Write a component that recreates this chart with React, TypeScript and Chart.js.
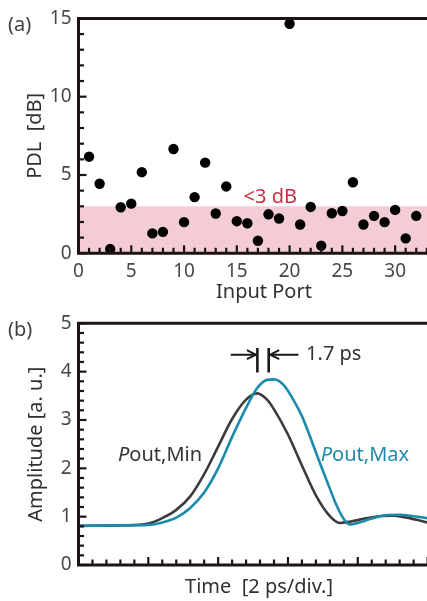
import React, { useEffect, useRef } from "react";
import { Chart, registerables } from "chart.js";
Chart.register(...registerables);

const FONT = "'Noto Sans', 'DejaVu Sans', sans-serif";
const AXIS_COLOR = "#1c1414";
const TICK_LABEL_COLOR = "#484848";
const TITLE_COLOR = "#303030";

// ---------- Panel (a): PDL per input port ----------
const inputPorts = [1, 2, 3, 4, 5, 6, 7, 8, 9, 10, 11, 12, 13, 14, 15, 16, 17, 18, 19, 20, 21, 22, 23, 24, 25, 26, 27, 28, 29, 30, 31, 32];
const pdlValues = [6.17, 4.44, 0.27, 2.94, 3.17, 5.18, 1.27, 1.37, 6.66, 1.99, 3.59, 5.79, 2.54, 4.27, 2.05, 1.92, 0.8, 2.49, 2.22, 14.66, 1.84, 2.96, 0.49, 2.56, 2.7, 4.54, 1.84, 2.39, 1.99, 2.77, 0.95, 2.39];
const portAxisTicks = [0, 5, 10, 15, 20, 25, 30];
const pdlAxisTicks = [0, 5, 10, 15];
const pdlBandMax = 3;
const pdlBandLabel = "<3 dB";

// ---------- Panel (b): pulse waveforms ----------
const timeMin = [0, 3, 5, 6, 7, 8, 9, 10, 11, 12, 12.8, 13.5, 14, 15, 16, 17, 18, 18.7, 19.5, 20.5, 21.5, 22.5, 23.5, 24.3, 25];
const ampMin = [0.81, 0.82, 0.86, 0.97, 1.14, 1.42, 1.88, 2.45, 3.02, 3.42, 3.55, 3.42, 3.22, 2.7, 2.06, 1.44, 1.01, 0.87, 0.9, 0.96, 1.01, 1.02, 0.98, 0.93, 0.88];
const timeMax = [0, 3, 5, 6, 7, 8, 9, 10, 11, 12, 12.8, 13.5, 14, 14.7, 15.4, 16, 16.5, 17, 17.5, 18, 18.5, 19, 19.4, 20, 21, 22, 23, 24, 25];
const ampMax = [0.81, 0.82, 0.83, 0.88, 0.98, 1.18, 1.5, 2.0, 2.65, 3.25, 3.66, 3.83, 3.84, 3.72, 3.41, 3.08, 2.72, 2.33, 1.95, 1.58, 1.22, 0.95, 0.84, 0.87, 0.96, 1.03, 1.04, 1.01, 0.97];
const ampAxisTicks = [0, 1, 2, 3, 4, 5];
const delayLabel = "1.7 ps";

const GRAY = "#3c3c3c";
const TEAL = "#1c8bab";

type TickSpec = {
  xMin: number; xMax: number; xStep: number; xMajorEvery: number;
  yMin: number; yMax: number; yStep: number; yMajorEvery: number;
};

function drawFrameAndTicks(chart: any, spec: TickSpec) {
  const { ctx, chartArea: a } = chart;
  const xs = chart.scales.x;
  const ys = chart.scales.y;
  ctx.save();
  ctx.strokeStyle = AXIS_COLOR;
  ctx.lineWidth = 2.2;
  const nx = Math.round((spec.xMax - spec.xMin) / spec.xStep);
  for (let i = 0; i <= nx; i++) {
    const px = xs.getPixelForValue(spec.xMin + i * spec.xStep);
    const len = i % spec.xMajorEvery === 0 ? 8 : 5.5;
    ctx.beginPath();
    ctx.moveTo(px, a.bottom);
    ctx.lineTo(px, a.bottom - len);
    ctx.stroke();
  }
  const ny = Math.round((spec.yMax - spec.yMin) / spec.yStep);
  for (let i = 0; i <= ny; i++) {
    const py = ys.getPixelForValue(spec.yMin + i * spec.yStep);
    const len = i % spec.yMajorEvery === 0 ? 8 : 5.5;
    ctx.beginPath();
    ctx.moveTo(a.left, py);
    ctx.lineTo(a.left + len, py);
    ctx.stroke();
  }
  ctx.lineWidth = 3;
  ctx.beginPath();
  ctx.moveTo(a.right + 8, a.top);
  ctx.lineTo(a.left, a.top);
  ctx.lineTo(a.left, a.bottom);
  ctx.lineTo(a.right + 8, a.bottom);
  ctx.stroke();
  ctx.restore();
}

function drawText(ctx: any, text: string, x: number, y: number, color: string, size: number, align = "left", style = "normal") {
  ctx.save();
  ctx.fillStyle = color;
  ctx.font = `${style} ${size}px ${FONT}`;
  ctx.textAlign = align;
  ctx.textBaseline = "middle";
  ctx.fillText(text, x, y);
  ctx.restore();
}

const panelALayer = {
  id: "panelALayer",
  beforeDatasetsDraw(chart: any) {
    const { ctx, chartArea: a } = chart;
    const ys = chart.scales.y;
    const top = ys.getPixelForValue(pdlBandMax);
    const bottom = ys.getPixelForValue(0);
    ctx.save();
    ctx.fillStyle = "#f3ccd4";
    ctx.fillRect(a.left, top, a.right - a.left + 8, bottom - top);
    ctx.restore();
  },
  afterDatasetsDraw(chart: any) {
    const { ctx } = chart;
    const xs = chart.scales.x;
    const ys = chart.scales.y;
    drawFrameAndTicks(chart, { xMin: 0, xMax: 33, xStep: 1, xMajorEvery: 5, yMin: 0, yMax: 15, yStep: 1, yMajorEvery: 5 });
    drawText(ctx, pdlBandLabel, xs.getPixelForValue(15.64), ys.getPixelForValue(3.55), "#c62d42", 20);
    drawText(ctx, "Input Port", 264, 292, TITLE_COLOR, 20, "center");
    drawText(ctx, "(a)", 8, 25, "#404040", 20);
  },
};

function drawArrowHead(ctx: any, tipX: number, y: number, dir: number) {
  ctx.beginPath();
  ctx.moveTo(tipX - dir * 9, y - 4.5);
  ctx.lineTo(tipX, y);
  ctx.lineTo(tipX - dir * 9, y + 4.5);
  ctx.stroke();
}

const panelBLayer = {
  id: "panelBLayer",
  afterDatasetsDraw(chart: any) {
    const { ctx } = chart;
    const xs = chart.scales.x;
    const ys = chart.scales.y;
    drawFrameAndTicks(chart, { xMin: 0, xMax: 25, xStep: 1, xMajorEvery: 5, yMin: 0, yMax: 5, yStep: 0.2, yMajorEvery: 5 });

    // delay marker
    const b1 = xs.getPixelForValue(12.81);
    const b2 = xs.getPixelForValue(13.62);
    const yTop = ys.getPixelForValue(4.49);
    const yBot = ys.getPixelForValue(3.98);
    const yArr = ys.getPixelForValue(4.35);
    const lStart = xs.getPixelForValue(10.9);
    const rEnd = xs.getPixelForValue(15.75);
    ctx.save();
    ctx.strokeStyle = "#1a1a1a";
    ctx.lineWidth = 2.6;
    ctx.beginPath();
    ctx.moveTo(b1, yTop); ctx.lineTo(b1, yBot);
    ctx.moveTo(b2, yTop); ctx.lineTo(b2, yBot);
    ctx.stroke();
    ctx.lineWidth = 2;
    ctx.beginPath();
    ctx.moveTo(lStart, yArr); ctx.lineTo(b1 - 1, yArr);
    ctx.moveTo(rEnd, yArr); ctx.lineTo(b2 + 1, yArr);
    ctx.stroke();
    drawArrowHead(ctx, b1 - 1.5, yArr, 1);
    drawArrowHead(ctx, b2 + 1.5, yArr, -1);
    ctx.restore();
    drawText(ctx, delayLabel, xs.getPixelForValue(16.3), yArr, "#333333", 20);

    // series labels with italic P
    const drawSeriesLabel = (t: number, v: number, rest: string, color: string) => {
      const x = xs.getPixelForValue(t);
      const y = ys.getPixelForValue(v);
      ctx.save();
      ctx.font = `italic 20px ${FONT}`;
      const w = ctx.measureText("P").width;
      ctx.restore();
      drawText(ctx, "P", x, y, color, 20, "left", "italic");
      drawText(ctx, rest, x + w, y, color, 20);
    };
    drawSeriesLabel(2.83, 2.26, "out,Min", "#333333");
    drawSeriesLabel(17.35, 2.26, "out,Max", TEAL);

    drawText(ctx, "Time  [2 ps/div.]", 259, 287, TITLE_COLOR, 20, "center");
    drawText(ctx, "(b)", 8, 30, "#404040", 20);
  },
};

const tickFont = { family: FONT, size: 19, lineHeight: 1.2 };
const titleFont = { family: FONT, size: 20, lineHeight: 1.2 };

export default function App() {
  const refA = useRef<HTMLCanvasElement>(null);
  const refB = useRef<HTMLCanvasElement>(null);

  useEffect(() => {
    const chartA = new Chart(refA.current as HTMLCanvasElement, {
      type: "scatter",
      data: {
        datasets: [
          {
            data: inputPorts.map((p, i) => ({ x: p, y: pdlValues[i] })),
            backgroundColor: "#000000",
            borderWidth: 0,
            pointRadius: 5.2,
            clip: false as any,
          },
        ],
      },
      options: {
        animation: false,
        responsive: false,
        layout: { padding: { left: 0, top: 16.2, right: 4.4, bottom: 0 } },
        plugins: { legend: { display: false }, tooltip: { enabled: false } },
        scales: {
          x: {
            type: "linear",
            min: 0,
            max: 33,
            grid: { display: false, drawTicks: false },
            border: { display: false },
            ticks: { font: tickFont, color: TICK_LABEL_COLOR, padding: 7, maxRotation: 0 },
            afterBuildTicks: (s: any) => { s.ticks = portAxisTicks.map((value) => ({ value })); },
            afterFit: (s: any) => { s.height = 56.7; },
          },
          y: {
            type: "linear",
            min: 0,
            max: 15,
            grid: { display: false, drawTicks: false },
            border: { display: false },
            ticks: { font: tickFont, color: TICK_LABEL_COLOR, padding: 7 },
            afterBuildTicks: (s: any) => { s.ticks = pdlAxisTicks.map((value) => ({ value })); },
            afterFit: (s: any) => { s.width = 78.5; },
            title: { display: true, text: "PDL  [dB]", font: titleFont, color: TITLE_COLOR, padding: { top: 23, bottom: 0 } },
          },
        },
      },
      plugins: [panelALayer],
    } as any);

    const chartB = new Chart(refB.current as HTMLCanvasElement, {
      type: "line",
      data: {
        datasets: [
          {
            label: "Pout,Max",
            data: timeMax.map((t, i) => ({ x: t, y: ampMax[i] })),
            borderColor: TEAL,
            borderWidth: 2.6,
            pointRadius: 0,
            cubicInterpolationMode: "monotone",
            fill: false,
          },
          {
            label: "Pout,Min",
            data: timeMin.map((t, i) => ({ x: t, y: ampMin[i] })),
            borderColor: GRAY,
            borderWidth: 2.6,
            pointRadius: 0,
            cubicInterpolationMode: "monotone",
            fill: false,
          },
        ],
      },
      options: {
        animation: false,
        responsive: false,
        layout: { padding: { left: 0, top: 23.3, right: 4.4, bottom: 0 } },
        plugins: { legend: { display: false }, tooltip: { enabled: false } },
        scales: {
          x: {
            type: "linear",
            min: 0,
            max: 25,
            grid: { display: false, drawTicks: false },
            border: { display: false },
            ticks: { display: false },
            afterFit: (s: any) => { s.height = 36; },
          },
          y: {
            type: "linear",
            min: 0,
            max: 5,
            grid: { display: false, drawTicks: false },
            border: { display: false },
            ticks: { font: tickFont, color: TICK_LABEL_COLOR, padding: 7 },
            afterBuildTicks: (s: any) => { s.ticks = ampAxisTicks.map((value) => ({ value })); },
            afterFit: (s: any) => { s.width = 78.5; },
            title: { display: true, text: "Amplitude [a. u.]", font: titleFont, color: TITLE_COLOR, padding: { top: 24, bottom: 0 } },
          },
        },
      },
      plugins: [panelBLayer],
    } as any);

    return () => {
      chartA.destroy();
      chartB.destroy();
    };
  }, []);

  return (
    <div style={{ position: "fixed", left: 0, top: 0, width: 427, height: 601, overflow: "hidden", background: "#ffffff" }}>
      <canvas ref={refB} width={432} height={301} style={{ position: "absolute", left: 0, top: 300, width: 432, height: 301 }} />
      <canvas ref={refA} width={432} height={310} style={{ position: "absolute", left: 0, top: 0, width: 432, height: 310 }} />
    </div>
  );
}
